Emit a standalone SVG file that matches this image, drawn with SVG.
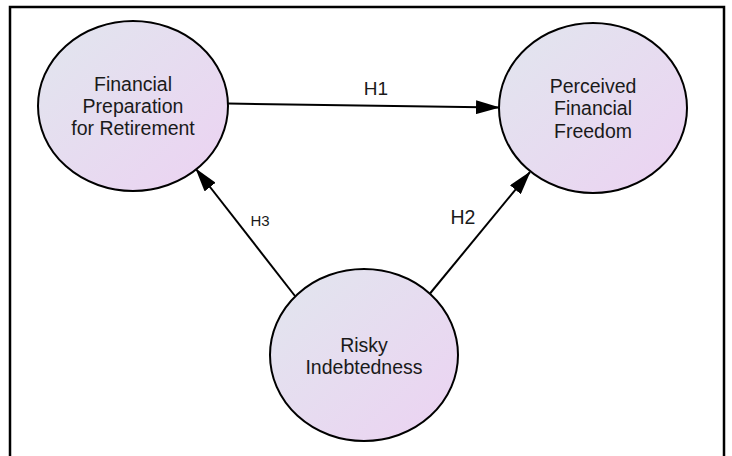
<svg xmlns="http://www.w3.org/2000/svg" width="732" height="456" viewBox="0 0 732 456">
<defs>
<linearGradient id="g" x1="0" y1="0" x2="1" y2="1">
<stop offset="0" stop-color="#e1e6ee"/>
<stop offset="1" stop-color="#ecd2f2"/>
</linearGradient>
<marker id="ah" markerWidth="24" markerHeight="14" refX="23" refY="7" orient="auto" markerUnits="userSpaceOnUse">
<path d="M0,0 L24,7 L0,14 Z" fill="#000"/>
</marker>
<style>
.node{fill:url(#g);stroke:#000;stroke-width:2}
.t{font-family:"Liberation Sans",Arial,sans-serif;font-size:19.5px;fill:#1a1a1a;text-anchor:middle}
.c{stroke:#000;stroke-width:2;fill:none;marker-end:url(#ah)}
.lbl{font-family:"Liberation Sans",Arial,sans-serif;fill:#1a1a1a;text-anchor:middle}
</style>
</defs>
<rect width="732" height="456" fill="#fff"/>
<path d="M10,456 V7 H724 V456" fill="none" stroke="#000" stroke-width="2.5"/>
<g id="connectors">
<line class="c" x1="228" y1="103.5" x2="499" y2="107.5"/>
<line class="c" x1="430" y1="293.5" x2="530" y2="172"/>
<line class="c" x1="295" y1="296" x2="196" y2="169"/>
<text class="lbl" x="376" y="95" font-size="19">H1</text>
<text class="lbl" x="463" y="224" font-size="19.5">H2</text>
<text class="lbl" x="260" y="226" font-size="15">H3</text>
</g>
<g id="fpr">
<ellipse class="node" cx="133" cy="106" rx="95" ry="85"/>
<text class="t" x="133" y="91">Financial</text>
<text class="t" x="133" y="113">Preparation</text>
<text class="t" x="133" y="135">for Retirement</text>
</g>
<g id="pff">
<ellipse class="node" cx="593" cy="108" rx="94" ry="85"/>
<text class="t" x="593" y="93">Perceived</text>
<text class="t" x="593" y="115">Financial</text>
<text class="t" x="593" y="138">Freedom</text>
</g>
<g id="ri">
<ellipse class="node" cx="364" cy="355" rx="94" ry="86"/>
<text class="t" x="364" y="352">Risky</text>
<text class="t" x="364" y="374">Indebtedness</text>
</g>
</svg>
